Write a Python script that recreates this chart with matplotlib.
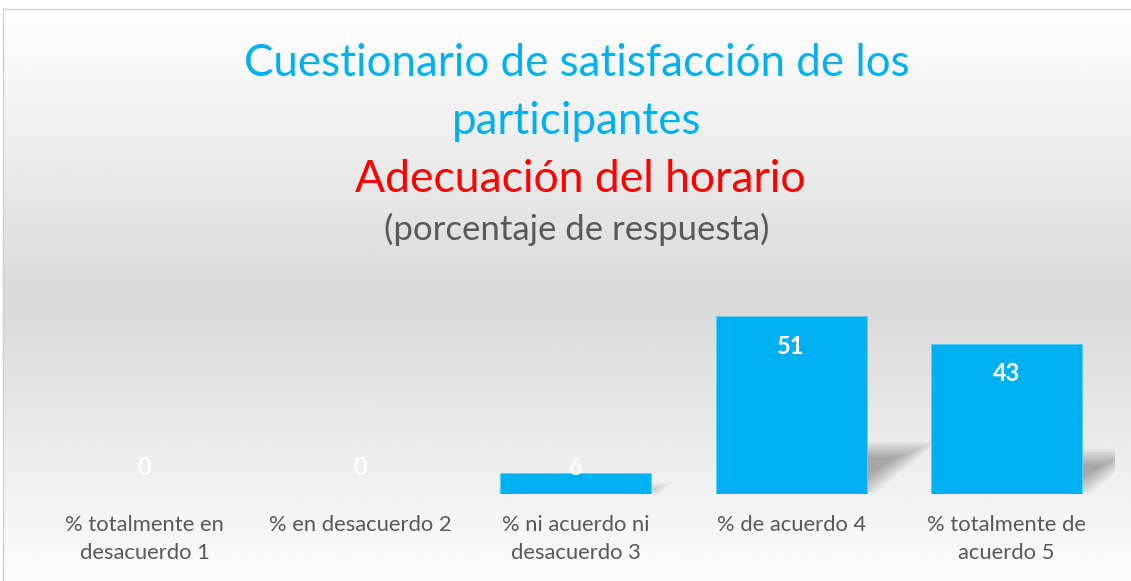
import matplotlib.pyplot as plt
import numpy as np
from matplotlib.patches import Polygon

plt.rcParams['font.family'] = ['Lato', 'DejaVu Sans']

# datos
categorias = ['% totalmente en\ndesacuerdo 1', '% en desacuerdo 2',
              '% ni acuerdo ni\ndesacuerdo 3', '% de acuerdo 4',
              '% totalmente de\nacuerdo 5']
porcentajes = [0, 0, 6, 51, 43]

titulo1 = 'Cuestionario de satisfacción de los'
titulo2 = 'participantes'
subtitulo = 'Adecuación del horario'
nota = '(porcentaje de respuesta)'

AZUL = '#00B0F0'
GRIS = '#595959'

W, H = 1131, 581
fig = plt.figure(figsize=(W / 100, H / 100), dpi=100)

# fondo con degradado
bg = fig.add_axes([0, 0, 1, 1], zorder=0)
bg.set_xlim(0, W)
bg.set_ylim(H, 0)
bg.axis('off')
yy = np.linspace(9, H, 400)
g = np.interp(yy, [9, 300, 581], [1.0, 0.85, 0.99])
img = np.repeat(g[:, None], 2, axis=1)
bg.imshow(img, cmap='gray', vmin=0, vmax=1, extent=[3, W + 2, H, 9], aspect='auto')
bg.plot([3, 3], [9, H], color='#d0d0d0', lw=1)
bg.plot([3, W], [9, 9], color='#d0d0d0', lw=1)

# ejes principales
ax = fig.add_axes([37 / W, (H - 494) / H, 1077.5 / W, 209.4 / H], zorder=1)
ax.patch.set_alpha(0)
x = np.arange(len(porcentajes))
ancho = 0.70
ax.set_xlim(-0.5, len(porcentajes) - 0.5)
ax.set_ylim(0, 60)

# sombras en perspectiva (difuminadas)
px_x = 1 / 215.5   # unidades x por pixel
px_y = 1 / 3.49    # unidades y por pixel
for xi, v in zip(x, porcentajes):
    if v == 0:
        continue
    hs = 0.26 * v
    sk = 1.2 * hs / px_y * px_x
    x0 = xi - ancho / 2
    x1 = xi + ancho / 2
    for k in range(12):
        dt = (k - 4) * 1.5 * px_y   # recorte arriba
        dr = (k - 4) * 2.0 * px_x   # recorte a la derecha
        db = k * 0.8 * px_y         # recorte abajo
        top = hs - dt
        pts = [(x0, db), (x1 - dr, db),
               (x1 - dr + sk * top / hs, top),
               (x0 + sk * top / hs, top)]
        ax.add_patch(Polygon(pts, closed=True, facecolor='#000000',
                             alpha=0.028, edgecolor='none', zorder=2))

ax.bar(x, porcentajes, width=ancho, color=AZUL, edgecolor='#5fcdf5',
       linewidth=0.6, zorder=3)

for xi, v in zip(x, porcentajes):
    ax.text(xi, max(v - 8.6, 7.7), str(v), ha='center', va='center',
            color='white', fontsize=17, fontweight='bold', zorder=4)

ax.set_xticks(x)
ax.set_xticklabels(categorias, color=GRIS, fontsize=15.8, linespacing=1.5)
ax.tick_params(axis='x', length=0, pad=15)
ax.set_yticks([])
for s in ax.spines.values():
    s.set_visible(False)

# títulos
fig.text(577 / W, 1 - 76 / H, titulo1,
         ha='center', va='baseline', color=AZUL, fontsize=31.6)
fig.text(577 / W, 1 - 134 / H, titulo2,
         ha='center', va='baseline', color=AZUL, fontsize=31.6)
fig.text(580 / W, 1 - 192 / H, subtitulo,
         ha='center', va='baseline', color='#FF0000', fontsize=32)
fig.text(577 / W, 1 - 240 / H, nota,
         ha='center', va='baseline', color=GRIS, fontsize=25)

fig.savefig('out.png', dpi=100)
